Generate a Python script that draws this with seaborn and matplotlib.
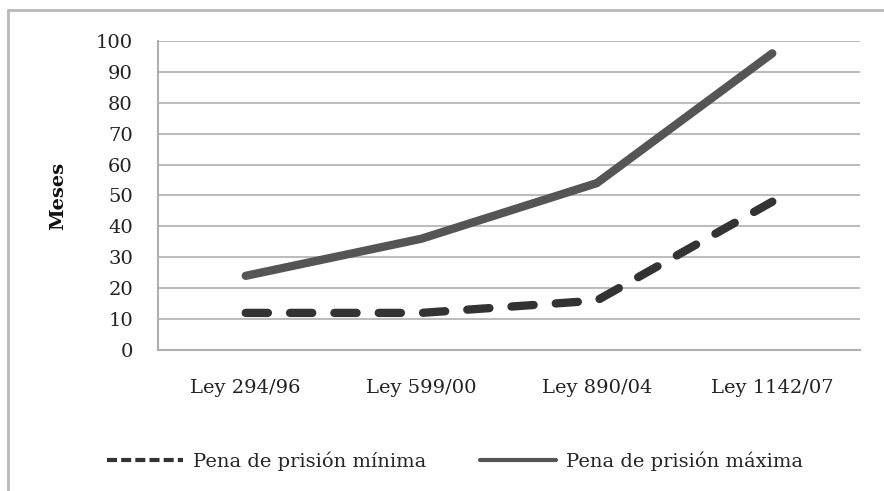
import matplotlib
matplotlib.use("Agg")
import matplotlib.pyplot as plt
import seaborn as sns
import pandas as pd
from matplotlib.lines import Line2D

# datos
leyes = ["Ley 294/96", "Ley 599/00", "Ley 890/04", "Ley 1142/07"]
pena_minima = [12, 12, 16, 48]
pena_maxima = [24, 36, 54, 96]

sns.set_theme(style="white")
plt.rcParams['font.family'] = ['DejaVu Serif']

df = pd.DataFrame({"ley": leyes, "minima": pena_minima, "maxima": pena_maxima})
df["pos"] = range(len(leyes))

fig = plt.figure(figsize=(8.84, 4.91), dpi=100)
ax = fig.add_axes([0.1787, 0.2872, 0.9729 - 0.1787, 0.9165 - 0.2872])

sns.lineplot(data=df, x="pos", y="minima", ax=ax, color="#333333", linewidth=6,
             linestyle=(0, (2.66, 2.66)), solid_capstyle="round", dash_capstyle="round",
             label="Pena de prisión mínima")
sns.lineplot(data=df, x="pos", y="maxima", ax=ax, color="#555555", linewidth=6,
             solid_capstyle="round", label="Pena de prisión máxima")

ax.set_xlim(-0.5, 3.5)
ax.set_ylim(0, 100)
ax.set_yticks(range(0, 101, 10))
ax.set_xticks(range(len(leyes)))
ax.set_xticklabels(leyes)
ax.set_xticks([i - 0.5 for i in range(len(leyes) + 1)], minor=True)
ax.tick_params(axis="x", which="major", length=0, pad=21, labelsize=14, labelcolor="#222222")
ax.tick_params(axis="x", which="minor", length=6, width=1.5, color="#b0b0b0", direction="out")
ax.tick_params(axis="y", which="major", length=6, width=1.5, color="#b0b0b0", direction="out",
               pad=12, labelsize=14, labelcolor="#222222")
ax.grid(axis="y", color="#bdbdbd", linewidth=1.5)
ax.set_axisbelow(True)
for s in ["top", "right"]:
    ax.spines[s].set_visible(False)
for s in ["left", "bottom"]:
    ax.spines[s].set_color("#b0b0b0")
    ax.spines[s].set_linewidth(1.5)
ax.set_xlabel("")
ax.set_ylabel("Meses", fontsize=14, fontweight="bold", labelpad=21, color="#111111")

leg = ax.legend(loc="center", ncol=2, frameon=False, fontsize=14, handlelength=3.9,
                columnspacing=2.8, handletextpad=0.5)
leg.set_bbox_to_anchor((455 / 884, 1 - 461 / 491), transform=fig.transFigure)
hs = leg.get_lines()
for h in hs:
    h.set_linewidth(3)
hs[0].set_linestyle((0, (2.4, 1.0)))
hs[0].set_dash_capstyle("butt")

# marco exterior
fig.add_artist(Line2D([8 / 884, 1], [1 - 10 / 491, 1 - 10 / 491], color="#b8b8b8", linewidth=2,
                      transform=fig.transFigure))
fig.add_artist(Line2D([8 / 884, 8 / 884], [0, 1 - 10 / 491], color="#b8b8b8", linewidth=2,
                      transform=fig.transFigure))

fig.savefig("out.png", dpi=100)
